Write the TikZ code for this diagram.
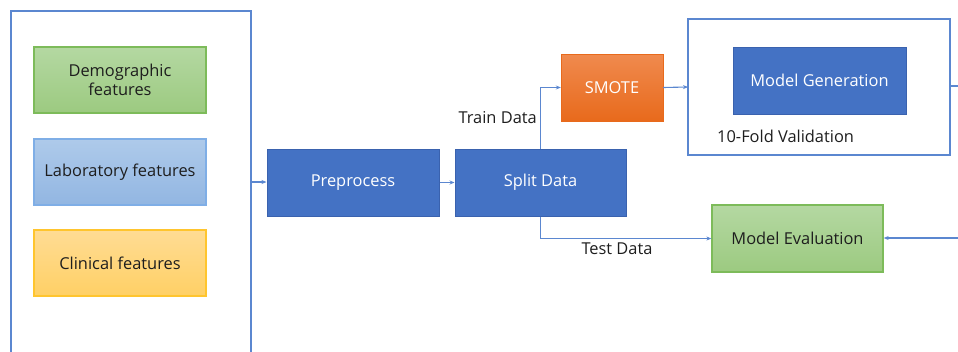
\documentclass[tikz,border=0pt]{standalone}
\usepackage{fontspec}
\setmainfont{Open Sans}
\usetikzlibrary{arrows.meta,positioning}
\definecolor{lineblue}{HTML}{5B87D0}
\definecolor{darkblue}{HTML}{4472C4}
\definecolor{darkblueb}{HTML}{3A62AE}
\definecolor{greentop}{HTML}{B4D8A2}
\definecolor{greenbot}{HTML}{9CCA80}
\definecolor{greenedge}{HTML}{7DBB5A}
\definecolor{bluetop}{HTML}{AECAEA}
\definecolor{bluebot}{HTML}{92B6E2}
\definecolor{blueedge}{HTML}{7FAEE6}
\definecolor{yellowtop}{HTML}{FFDC94}
\definecolor{yellowbot}{HTML}{FFD065}
\definecolor{yellowedge}{HTML}{FFC52E}
\definecolor{orangetop}{HTML}{F08A4E}
\definecolor{orangebot}{HTML}{E86A1C}
\definecolor{textdark}{HTML}{1E1E1E}
\tikzset{
  txt/.style={font=\fontsize{16.4}{19.5}\selectfont},
  conn/.style={draw=lineblue, line width=1.1pt, -{Stealth[length=5pt,width=4pt]}},
  plain/.style={draw=lineblue, line width=1.1pt},
  frame/.style={draw=lineblue, line width=1.1pt},
  feat/.style={txt, minimum width=172pt, minimum height=66pt, line width=1.3pt, align=center, text=textdark},
  greenbox/.style={feat, draw=greenedge, top color=greentop, bottom color=greenbot},
  bluebox/.style={feat, draw=blueedge, top color=bluetop, bottom color=bluebot},
  yellowbox/.style={feat, draw=yellowedge, top color=yellowtop, bottom color=yellowbot},
  procbox/.style={txt, minimum height=67pt, fill=darkblue, draw=darkblueb, line width=1pt, text=white},
  orangebox/.style={txt, minimum width=102pt, minimum height=67pt, draw=orangebot, top color=orangetop, bottom color=orangebot, text=white},
  evalbox/.style={txt, minimum width=171pt, minimum height=67pt, line width=1.3pt, draw=greenedge, top color=greentop, bottom color=greenbot, text=textdark},
  lbl/.style={txt, text=textdark, inner sep=0pt}
}
\begin{document}
\begin{tikzpicture}[x=1pt,y=-1pt]
\useasboundingbox (0,0) rectangle (958,351);
% left frame (open at bottom)
\draw[frame] (11,352) -- (11,11) -- (251,11) -- (251,352);
\coordinate (leftout) at (251,182);
\node[greenbox] (demo) at (120,80) {Demographic\\features};
\node[bluebox] (lab) at (120,172) {Laboratory features};
\node[yellowbox] (clin) at (120,263) {Clinical features};
\node[procbox, minimum width=172pt] (pre) at (353,182.5) {Preprocess};
\node[procbox, minimum width=171pt] (split) at (540.5,182.5) {Split Data};
\node[orangebox] (smote) at (612,87.5) {SMOTE};
% validation frame
\draw[frame] (688,19) rectangle (950,155);
\coordinate (valin) at (688,87);
\coordinate (valout) at (950,86);
\coordinate (rightedge) at (959,86);
\coordinate (rightin) at (959,238);
\node[procbox, minimum width=173pt] (gen) at (819.5,80.5) {Model Generation};
\node[lbl, anchor=west] (fold) at (717,136) {10-Fold Validation};
\node[evalbox] (eval) at (797.5,238.5) {Model Evaluation};
% connectors
\draw[conn] (leftout) -- (pre.west |- leftout);
\draw[conn] (pre.east) -- (split.west);
\draw[conn] (split.north) |- (smote.west);
\draw[conn] (smote.east) -- (valin);
\draw[plain] (valout) -- (rightedge);
\draw[conn] (split.south) |- (eval.west);
\draw[conn] (rightin) -- (eval.east |- rightin);
\node[lbl, anchor=east] (train) at (537,118) {Train Data};
\node[lbl] (test) at (617,249) {Test Data};
\end{tikzpicture}
\end{document}
